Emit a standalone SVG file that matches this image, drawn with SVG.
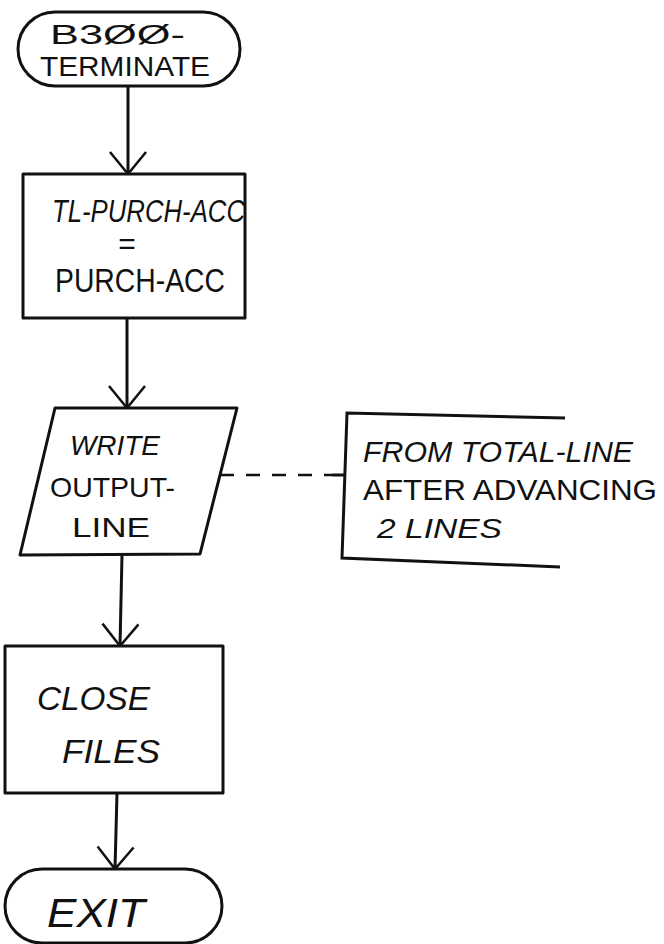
<svg xmlns="http://www.w3.org/2000/svg" width="664" height="944" viewBox="0 0 664 944">
<style>
.s{fill:#fff;stroke:#111;stroke-width:3;stroke-linejoin:round}
.c{fill:none;stroke:#111;stroke-width:3}
.d{fill:none;stroke:#111;stroke-width:2.5;stroke-dasharray:14 12}
text{font-family:"Liberation Sans","DejaVu Sans",sans-serif;fill:#111}
</style>
<defs>
<marker id="v" markerUnits="userSpaceOnUse" markerWidth="42" markerHeight="42" refX="38" refY="21" orient="auto">
<path d="M16,3 L38,21 L16,39" fill="none" stroke="#111" stroke-width="2.5"/>
</marker>
</defs>
<rect width="664" height="944" fill="#fff"/>
<g id="connectors">
<line class="c" x1="128" y1="87" x2="128" y2="174" marker-end="url(#v)"/>
<line class="c" x1="127" y1="318" x2="127" y2="408" marker-end="url(#v)"/>
<line class="c" x1="122" y1="555" x2="120" y2="646" marker-end="url(#v)"/>
<line class="c" x1="117" y1="793" x2="115" y2="869" marker-end="url(#v)"/>
<line class="d" x1="220" y1="475" x2="332" y2="475"/>
</g>
<g id="start">
<rect class="s" x="18" y="12" width="222" height="74" rx="37"/>
<text x="50" y="44" font-size="27" textLength="135" lengthAdjust="spacingAndGlyphs">B3ØØ-</text>
<text x="40" y="76" font-size="27" textLength="170" lengthAdjust="spacingAndGlyphs">TERMINATE</text>
</g>
<g id="assign">
<rect class="s" x="23" y="174" width="222" height="144"/>
<text x="52" y="222" font-size="31" font-style="italic" textLength="193" lengthAdjust="spacingAndGlyphs">TL-PURCH-ACC</text>
<text x="127" y="254" font-size="30" text-anchor="middle">=</text>
<text x="55" y="292" font-size="33" textLength="170" lengthAdjust="spacingAndGlyphs">PURCH-ACC</text>
</g>
<g id="write">
<polygon class="s" points="55,408 237,408 200,554 20,555"/>
<text x="70" y="455" font-size="27" font-style="italic" textLength="90" lengthAdjust="spacingAndGlyphs">WRITE</text>
<text x="50" y="497" font-size="28" textLength="125" lengthAdjust="spacingAndGlyphs">OUTPUT-</text>
<text x="72" y="537" font-size="28" textLength="78" lengthAdjust="spacingAndGlyphs">LINE</text>
</g>
<g id="note">
<path class="c" d="M565,418 L347,413 L342,558 L560,567"/>
<line class="c" x1="332" y1="475" x2="345" y2="475"/>
<text x="363" y="462" font-size="29" font-style="italic" textLength="270" lengthAdjust="spacingAndGlyphs">FROM TOTAL-LINE</text>
<text x="363" y="500" font-size="29" textLength="294" lengthAdjust="spacingAndGlyphs">AFTER ADVANCING</text>
<text x="377" y="538" font-size="28" font-style="italic" textLength="125" lengthAdjust="spacingAndGlyphs">2 LINES</text>
</g>
<g id="close">
<rect class="s" x="5" y="646" width="218" height="147"/>
<text x="37" y="710" font-size="34" font-style="italic" textLength="113" lengthAdjust="spacingAndGlyphs">CLOSE</text>
<text x="62" y="763" font-size="34" font-style="italic" textLength="98" lengthAdjust="spacingAndGlyphs">FILES</text>
</g>
<g id="exit">
<rect class="s" x="5" y="869" width="217" height="74" rx="37"/>
<text x="47" y="927" font-size="40" font-style="italic" textLength="98" lengthAdjust="spacingAndGlyphs">EXIT</text>
</g>
</svg>
